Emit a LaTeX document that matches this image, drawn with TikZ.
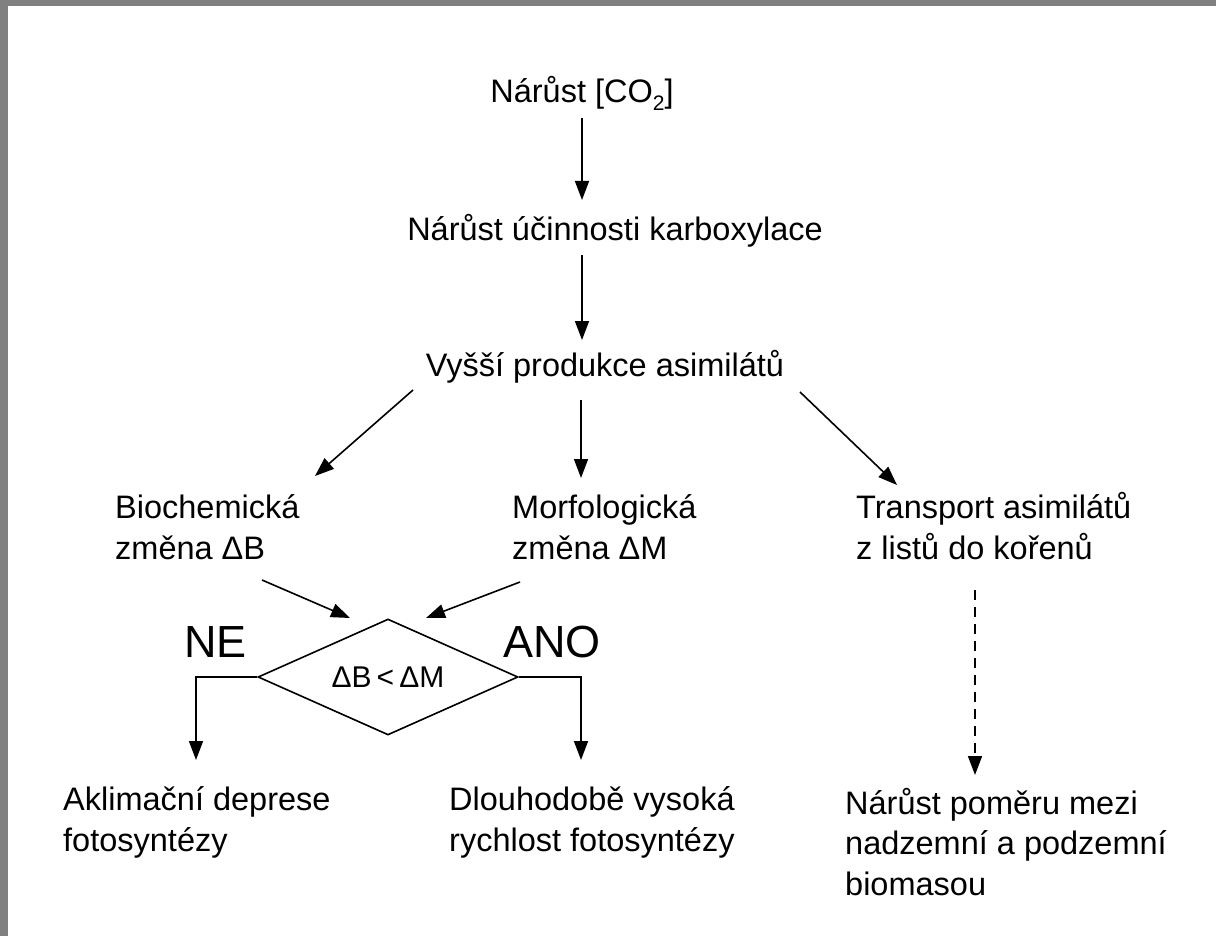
\documentclass[tikz,border=0pt]{standalone}
\usepackage{fontspec}
\setmainfont{Liberation Sans}
\usetikzlibrary{arrows.meta,shapes.geometric}
\definecolor{frame}{RGB}{128,128,128}
\newcommand{\mysub}[1]{\raisebox{-0.22em}{\fontsize{21}{21}\selectfont #1}}
\begin{document}
\begin{tikzpicture}[x=1pt,y=-1pt,
  txt/.style={font=\fontsize{32.5}{40.5}\selectfont, inner sep=0pt, align=left},
  big/.style={font=\fontsize{45}{50}\selectfont, inner sep=0pt},
  arr/.style={line width=1.6pt, -{Triangle[length=19pt,width=14pt]}},
  ln/.style={line width=1.6pt}]
\fill[frame] (0,0) rectangle (1216,936);
\fill[white] (8,6) rectangle (1216,936);
\useasboundingbox (0,0) rectangle (1216,936);

\node[txt, anchor=base] (co2) at (582,103) {Nárůst [CO\mysub{2}]};
\node[txt, anchor=base] (uc) at (615,241) {Nárůst účinnosti karboxylace};
\node[txt, anchor=base] (vy) at (605,376) {Vyšší produkce asimilátů};
\node[txt, anchor=base west] (bio) at (115,559) {Biochemická\\změna ΔB};
\node[txt, anchor=base west] (mor) at (512,559) {Morfologická\\změna ΔM};
\node[txt, anchor=base west] (tra) at (856,559) {Transport asimilátů\\z listů do kořenů};
\node[draw, ln, diamond, aspect=2.24, minimum width=260pt, minimum height=116pt, inner sep=0pt,
      font=\fontsize{30}{34}\selectfont] (d) at (388,677) {ΔB\,<\,ΔM};
\node[big, anchor=base west] (ne) at (184,657) {NE};
\node[big, anchor=base west] (ano) at (503,657) {ANO};
\node[txt, anchor=base west] (akl) at (63,851) {Aklimační deprese\\fotosyntézy};
\node[txt, anchor=base west] (dlo) at (449,851) {Dlouhodobě vysoká\\rychlost fotosyntézy};
\node[txt, anchor=base west] (nar) at (845,895) {Nárůst poměru mezi\\nadzemní a podzemní\\biomasou};

\coordinate (a1s) at (582,118); \coordinate (a1e) at (582,200);
\coordinate (a2s) at (582,255); \coordinate (a2e) at (582,340);
\coordinate (l1s) at (413,390); \coordinate (l1e) at (315,476);
\coordinate (m1s) at (581,400); \coordinate (m1e) at (581,478);
\coordinate (r1s) at (800,392); \coordinate (r1e) at (897,485);
\coordinate (b1s) at (262,580); \coordinate (b1e) at (350,618);
\coordinate (m2s) at (520,582); \coordinate (m2e) at (426,618);
\coordinate (nec) at (196,677); \coordinate (nee) at (196,760);
\coordinate (anc) at (581,677); \coordinate (ane) at (581,760);
\coordinate (tds) at (975,590); \coordinate (tde) at (975,775);

\draw[arr] (a1s) -- (a1e);
\draw[arr] (a2s) -- (a2e);
\draw[arr] (l1s) -- (l1e);
\draw[arr] (m1s) -- (m1e);
\draw[arr] (r1s) -- (r1e);
\draw[arr] (b1s) -- (b1e);
\draw[arr] (m2s) -- (m2e);
\draw[arr] (d.west) -- (nec) -- (nee);
\draw[arr] (d.east) -- (anc) -- (ane);
\draw[arr, dashed, dash pattern=on 10pt off 7pt] (tds) -- (tde);
\end{tikzpicture}
\end{document}
